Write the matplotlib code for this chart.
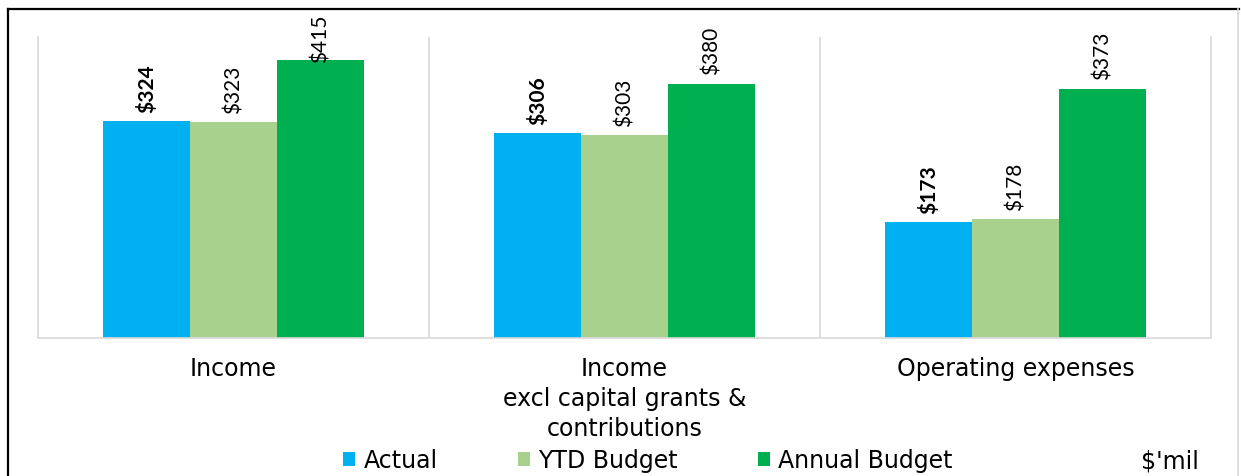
import matplotlib.pyplot as plt
from matplotlib.patches import Patch
from matplotlib.lines import Line2D
import numpy as np

categories = ["Income", "Income\nexcl capital grants &\ncontributions", "Operating expenses"]
series = ["Actual", "YTD Budget", "Annual Budget"]
actual = [324, 306, 173]
ytd_budget = [323, 303, 178]
annual_budget = [415, 380, 373]

colors = ["#00B0F0", "#A9D18E", "#00B050"]
grid_col = "#d9d9d9"

fig = plt.figure(figsize=(12.41, 4.77), dpi=100)
ax = fig.add_axes([0.0306, 0.2893, 0.9452, 0.631])

x = np.arange(len(categories))
w = 0.2225
ymax = 450

for i, (name, vals, col) in enumerate(zip(series, [actual, ytd_budget, annual_budget], colors)):
    xs = x + (i - 1) * w
    ax.bar(xs, vals, width=w, color=col, label=name, zorder=2)
    for xi, v in zip(xs, vals):
        # keep labels inside the plot area
        ty = min(v + 14, 413)
        ax.text(xi, ty, f"${v}", rotation=90, ha="center", va="bottom",
                fontsize=15, family=["Lato", "DejaVu Sans"],
                fontweight="bold" if i == 0 else "normal", color="black")

ax.set_xlim(-0.5, 2.5)
ax.set_ylim(0, ymax)
ax.set_yticks([])
ax.set_xticks(x)
ax.set_xticklabels(categories, fontsize=17, family="DejaVu Sans", linespacing=1.32)
ax.tick_params(axis="x", length=0, pad=13)

for b in [0.5, 1.5]:
    ax.axvline(b, color=grid_col, lw=1.2, zorder=1)
for side in ["left", "right", "bottom"]:
    ax.spines[side].set_color(grid_col)
    ax.spines[side].set_linewidth(1.2)
ax.spines["top"].set_visible(False)

handles = [Patch(facecolor=c, edgecolor="none") for c in colors]
fig.legend(handles, series, loc="center", bbox_to_anchor=(0.522, 0.033), ncol=3,
           frameon=False, prop={"family": "DejaVu Sans", "size": 17},
           handlelength=0.5, handleheight=0.5, handletextpad=0.35,
           columnspacing=3.4, borderpad=0)
fig.text(0.943, 0.033, "$'mil", ha="center", va="center", fontsize=17, family="DejaVu Sans")

# outer frame
fig.add_artist(Line2D([0.0064, 0.0064], [-0.05, 0.980], transform=fig.transFigure, color="black", lw=1.6))
fig.add_artist(Line2D([0.0064, 0.998], [0.980, 0.980], transform=fig.transFigure, color="black", lw=1.6))
fig.add_artist(Line2D([0.9976, 0.9976], [-0.05, 0.980], transform=fig.transFigure, color=grid_col, lw=1.2))

fig.savefig("out.png", dpi=100)
